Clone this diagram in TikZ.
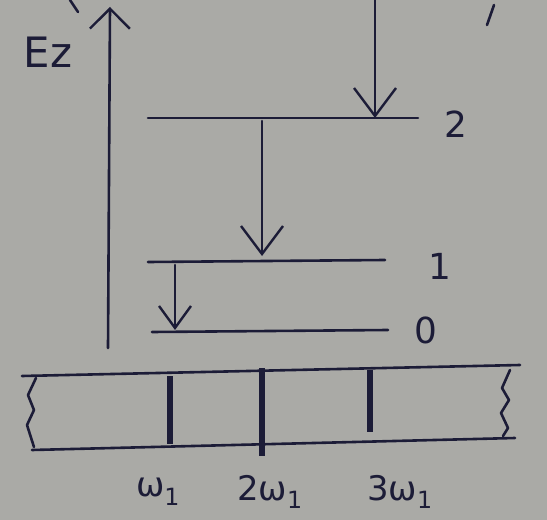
\documentclass[tikz,border=0pt]{standalone}
\usepackage{fontspec}
\setmainfont{DejaVu Sans}
\usetikzlibrary{arrows.meta}
\definecolor{board}{RGB}{170,170,166}
\definecolor{ink}{RGB}{28,28,55}
\tikzset{
  pen/.style={draw=ink, line width=2.6bp, line cap=round, line join=round},
  vee/.style={pen, -{Straight Barb[length=28bp,width=42bp,line width=2.4bp]}},
  level/.style={pen},
  bar/.style={draw=ink, line width=6bp},
  lbl/.style={text=ink, font=\fontsize{36}{36}\selectfont, inner sep=0pt},
}
\begin{document}
\begin{tikzpicture}[x=1bp,y=-1bp]
\fill[board] (0,0) rectangle (547,520);
\useasboundingbox (0,0) rectangle (547,520);
% stray marks
\draw[pen] (70,0) -- (78,12);
\draw[pen] (487,25) -- (494,5);
% energy axis
\coordinate (ab) at (108,348);
\coordinate (at) at (110,7);
\draw[vee, -{Straight Barb[length=20bp,width=40bp,line width=2.4bp]}] (ab) -- (at);
\node[lbl, font=\fontsize{42}{42}\selectfont] (ez) at (48,52) {Ez};
% levels
\coordinate (l2a) at (148,118); \coordinate (l2b) at (418,118);
\coordinate (l1a) at (148,262); \coordinate (l1b) at (385,260);
\coordinate (l0a) at (152,332); \coordinate (l0b) at (388,330);
\draw[level] (l2a) -- (l2b);
\draw[level] (l1a) -- (l1b);
\draw[level] (l0a) -- (l0b);
\node[lbl] (n2) at (456,124) {2};
\node[lbl] (n1) at (440,266) {1};
\node[lbl] (n0) at (426,330) {0};
% transitions
\coordinate (tin) at (375,0);
\coordinate (t2) at (375,118);
\coordinate (s2) at (262,121);
\coordinate (e1) at (262,256);
\coordinate (s1) at (175,265);
\coordinate (e0) at (175,330);
\draw[vee] (tin) -- (t2);
\draw[vee] (s2) -- (e1);
\draw[vee, -{Straight Barb[length=22bp,width=32bp,line width=2.4bp]}] (s1) -- (e0);
% spectrum strip
\draw[pen] (22,376) -- (520,365);
\draw[pen] (32,450) -- (515,438);
\draw[pen] (36,378) -- (28,395) -- (34,410) -- (27,425) -- (34,447);
\draw[pen] (510,370) -- (502,388) -- (509,400) -- (501,413) -- (508,428) -- (503,436);
\draw[bar] (170,376) -- (170,444);
\draw[bar] (262,368) -- (262,456);
\draw[bar] (370,370) -- (370,432);
\node[lbl, font=\fontsize{34}{34}\selectfont] (w1) at (158,492) {ω\textsubscript{1}};
\node[lbl, font=\fontsize{34}{34}\selectfont] (w2) at (270,492) {2ω\textsubscript{1}};
\node[lbl, font=\fontsize{34}{34}\selectfont] (w3) at (400,492) {3ω\textsubscript{1}};
\end{tikzpicture}
\end{document}
